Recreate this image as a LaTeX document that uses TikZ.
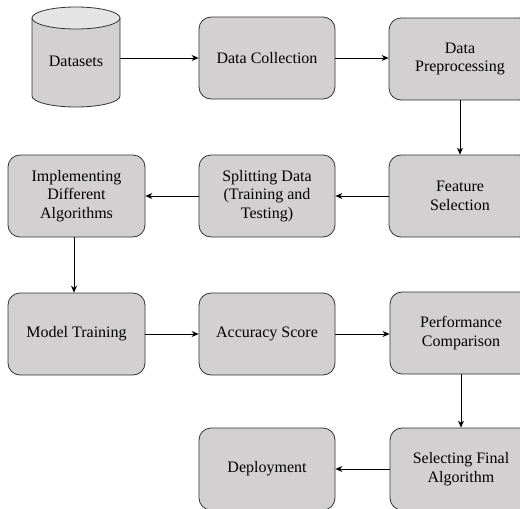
\documentclass[tikz,border=0pt]{standalone}
\usepackage{fontspec}
\setmainfont{Liberation Serif}
\newfontfamily\boxface{Liberation Serif}
\usetikzlibrary{arrows.meta}
\definecolor{boxfill}{HTML}{D2D0D0}
\definecolor{topfill}{HTML}{E4E4E4}
\definecolor{edge}{HTML}{333333}
\tikzset{
  procbox/.style={draw=edge, line width=0.8pt, fill=boxfill, rounded corners=12pt,
    minimum width=136pt, minimum height=82pt, align=center, inner sep=2pt,
    font=\boxface\fontsize{16}{18.5}\selectfont},
  dsnode/.style={minimum width=88pt, minimum height=60pt, inner sep=0pt,
    font=\boxface\fontsize{16}{18.5}\selectfont},
  flow/.style={draw=black, line width=0.8pt, -{Stealth[length=7pt,width=6pt]}}
}
\begin{document}
\begin{tikzpicture}[x=1pt,y=-1pt]
\useasboundingbox (0,0) rectangle (520,509);
\clip (0,0) rectangle (520,509);
% cylinder
\draw[draw=edge, line width=0.8pt, fill=boxfill]
  (32,18) -- (32,96) arc[start angle=180, end angle=0, x radius=44, y radius=11]
  -- (120,18) -- cycle;
\draw[draw=edge, line width=0.8pt, fill=topfill] (76,18) ellipse[x radius=44, y radius=11];
\node[dsnode] (ds) at (76,61) {Datasets};
% boxes
\node[procbox] (dc) at (267,58) {Data Collection};
\node[procbox, minimum width=142pt] (dp) at (460,59) {Data\\Preprocessing};
\node[procbox, minimum width=142pt] (fs) at (460,196) {Feature\\Selection};
\node[procbox] (sd) at (267,196) {Splitting Data\\(Training and\\Testing)};
\node[procbox, minimum width=137pt] (ida) at (76.5,196) {Implementing\\Different\\Algorithms};
\node[procbox, minimum width=137pt] (mt) at (76.5,334) {Model Training};
\node[procbox] (acc) at (267,334) {Accuracy Score};
\node[procbox, minimum width=142pt] (pc) at (461,333) {Performance\\Comparison};
\node[procbox, minimum width=142pt] (sfa) at (461,469) {Selecting Final\\Algorithm};
\node[procbox] (dep) at (267,469) {Deployment};
% connectors
\draw[flow] (ds.east |- dc.west) -- (dc.west);
\draw[flow] (dc.east) -- (dc.east -| dp.west);
\draw[flow] (dp.south) -- (fs.north);
\draw[flow] (fs.west) -- (sd.east);
\draw[flow] (sd.west) -- (ida.east);
\draw[flow] (ida.south -| 74,0) -- (mt.north -| 74,0);
\draw[flow] (mt.east) -- (acc.west);
\draw[flow] (acc.east) -- (acc.east -| pc.west);
\draw[flow] (pc.south) -- (sfa.north);
\draw[flow] (sfa.west) -- (dep.east);
\end{tikzpicture}
\end{document}
